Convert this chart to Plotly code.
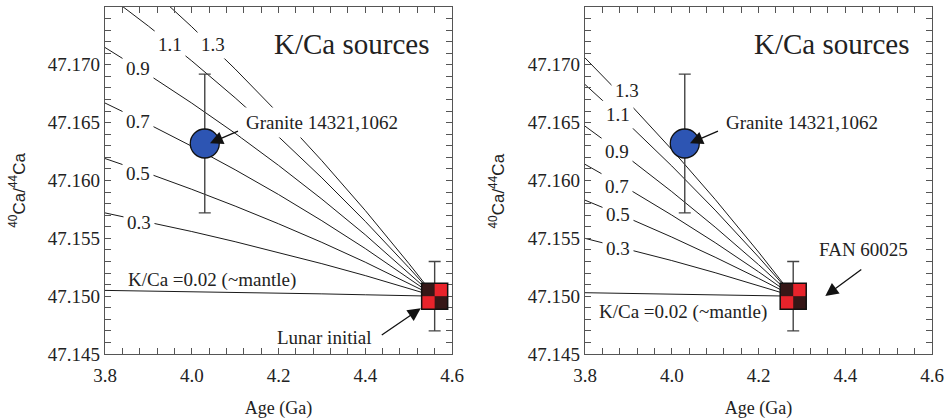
import plotly.graph_objects as go

# ---------------- data ----------------
kca_labels = ["0.02", "0.3", "0.5", "0.7", "0.9", "1.1", "1.3"]

# Left panel: evolution curves from the lunar initial (4.56 Ga)
left_age = [3.8, 3.9, 4.0, 4.1, 4.2, 4.3, 4.4, 4.5, 4.56]
left_curves = {
    "0.02": [47.1505, 47.15045, 47.15039, 47.15033, 47.15026, 47.1502, 47.15012, 47.15005, 47.15],
    "0.3": [47.1572, 47.15642, 47.15559, 47.15471, 47.15379, 47.15281, 47.15178, 47.15068, 47.15],
    "0.5": [47.1619, 47.16061, 47.15924, 47.15779, 47.15626, 47.15465, 47.15294, 47.15113, 47.15],
    "0.7": [47.1667, 47.16488, 47.16296, 47.16093, 47.15879, 47.15652, 47.15412, 47.15159, 47.15],
    "0.9": [47.1715, 47.16916, 47.16669, 47.16408, 47.16131, 47.15839, 47.15531, 47.15204, 47.15],
    "1.1": [47.1762, 47.17335, 47.17034, 47.16715, 47.16379, 47.16023, 47.15647, 47.15249, 47.15],
    "1.3": [47.1800, 47.17674, 47.17329, 47.16964, 47.16579, 47.16171, 47.15741, 47.15285, 47.15],
}

# Right panel: evolution curves from FAN 60025 (4.28 Ga)
right_age = [3.8, 3.9, 4.0, 4.1, 4.2, 4.28]
right_curves = {
    "0.02": [47.1503, 47.15024, 47.15018, 47.15012, 47.15006, 47.15],
    "0.3": [47.155, 47.15407, 47.15308, 47.15203, 47.15093, 47.15],
    "0.5": [47.1583, 47.15675, 47.15511, 47.15337, 47.15154, 47.15],
    "0.7": [47.1614, 47.15927, 47.15701, 47.15463, 47.15211, 47.15],
    "0.9": [47.1647, 47.16195, 47.15904, 47.15597, 47.15273, 47.15],
    "1.1": [47.1683, 47.16488, 47.16126, 47.15744, 47.15339, 47.15],
    "1.3": [47.1706, 47.16675, 47.16268, 47.15837, 47.15382, 47.15],
}

granite_age, granite_ratio, granite_err = 4.03, 47.1632, 0.006
lunar_age, lunar_ratio, lunar_err = 4.56, 47.150, 0.003
fan_age, fan_ratio, fan_err = 4.28, 47.150, 0.003

# curve label positions (age, ratio)
left_label_pos = {
    "0.3": (3.879, 47.15641), "0.5": (3.877, 47.16062), "0.7": (3.877, 47.16508),
    "0.9": (3.877, 47.16964), "1.1": (3.95, 47.17177), "1.3": (4.048, 47.17177),
}
right_label_pos = {
    "0.3": (3.875, 47.15414), "0.5": (3.875, 47.15702), "0.7": (3.873, 47.15946),
    "0.9": (3.873, 47.16249), "1.1": (3.875, 47.16573), "1.3": (3.896, 47.16782),
}

x_ticks = [3.8, 4.0, 4.2, 4.4, 4.6]
y_ticks = [47.145, 47.150, 47.155, 47.160, 47.165, 47.170]

# ---------------- style ----------------
SERIF = "Liberation Serif"
TXT = "#222222"
BLUE = "#2d55b3"
RED = "#e8232b"
DARK = "#361717"
half_w, half_h = 0.03, 0.001125   # half size of the checker square (data units)

fig = go.Figure()

def add_panel(xa, ya, ages, curves):
    for k in kca_labels:
        fig.add_trace(go.Scatter(x=ages, y=curves[k], mode="lines",
                                 line=dict(color="#1a1a1a", width=1),
                                 xaxis=xa, yaxis=ya, showlegend=False, hoverinfo="skip"))

add_panel("x", "y", left_age, left_curves)
add_panel("x2", "y2", right_age, right_curves)

# granite circles with error bars
for xa, ya in (("x", "y"), ("x2", "y2")):
    fig.add_trace(go.Scatter(
        x=[granite_age], y=[granite_ratio], mode="markers",
        marker=dict(size=29, color=BLUE, line=dict(color="#111", width=1.3)),
        error_y=dict(type="constant", value=granite_err, color="#444", thickness=1.4, width=6),
        xaxis=xa, yaxis=ya, showlegend=False))

# square points error bars (square itself drawn as shapes)
for xa, ya, ax_, ay_, e in (("x", "y", lunar_age, lunar_ratio, lunar_err),
                            ("x2", "y2", fan_age, fan_ratio, fan_err)):
    fig.add_trace(go.Scatter(
        x=[ax_], y=[ay_], mode="markers", marker=dict(size=1, color=DARK),
        error_y=dict(type="constant", value=e, color="#444", thickness=1.4, width=6),
        xaxis=xa, yaxis=ya, showlegend=False))

shapes = []
for xr, yr, cx, cy in (("x", "y", lunar_age, lunar_ratio), ("x2", "y2", fan_age, fan_ratio)):
    shapes.append(dict(type="rect", xref=xr, yref=yr, x0=cx - half_w, x1=cx + half_w,
                       y0=cy - half_h, y1=cy + half_h, fillcolor=DARK, line=dict(width=0), layer="above"))
    shapes.append(dict(type="rect", xref=xr, yref=yr, x0=cx, x1=cx + half_w,
                       y0=cy, y1=cy + half_h, fillcolor=RED, line=dict(width=0), layer="above"))
    shapes.append(dict(type="rect", xref=xr, yref=yr, x0=cx - half_w, x1=cx,
                       y0=cy - half_h, y1=cy, fillcolor=RED, line=dict(width=0), layer="above"))
    shapes.append(dict(type="rect", xref=xr, yref=yr, x0=cx - half_w, x1=cx + half_w,
                       y0=cy - half_h, y1=cy + half_h, fillcolor="rgba(0,0,0,0)",
                       line=dict(color="#111", width=1.5), layer="above"))

ann = []
def label(xr, yr, x, y, text, size=19, bg=None, pad=1):
    d = dict(xref=xr, yref=yr, x=x, y=y, text=text, showarrow=False,
             font=dict(family=SERIF, size=size, color=TXT), borderpad=pad)
    if bg:
        d["bgcolor"] = bg
    ann.append(d)

def arrow(xr, yr, x, y, ax, ay):
    ann.append(dict(xref=xr, yref=yr, x=x, y=y, ax=ax, ay=ay, text=" ", showarrow=True,
                    arrowhead=2, arrowsize=2.0, arrowwidth=1.3, arrowcolor="#111",
                    font=dict(size=2)))

for k, (lx, ly) in left_label_pos.items():
    label("x", "y", lx, ly, k, bg="white", pad=3)
for k, (lx, ly) in right_label_pos.items():
    label("x2", "y2", lx, ly, k, bg="white", pad=3)

label("x", "y", 4.046, 47.1514, "K/Ca =0.02 (~mantle)")
label("x2", "y2", 4.027, 47.14866, "K/Ca =0.02 (~mantle)")
label("x", "y", 4.369, 47.1718, "K/Ca sources", size=29)
label("x2", "y2", 4.369, 47.1718, "K/Ca sources", size=29)
label("x", "y", 4.3014, 47.16501, "Granite 14321,1062", bg="white", pad=4)
label("x2", "y2", 4.3014, 47.16501, "Granite 14321,1062")
label("x", "y", 4.3054, 47.14643, "Lunar initial")
label("x2", "y2", 4.443, 47.154, "FAN 60025")

arrow("x", "y", 4.042, 47.16322, 30, -13)
arrow("x2", "y2", 4.042, 47.16322, 30, -13)
arrow("x", "y", 4.528, 47.14895, -41, 28)
arrow("x2", "y2", 4.354, 47.15001, 38, -28)

# y-axis titles
for xp in (0.018, 0.522):
    ann.append(dict(xref="paper", yref="paper", x=xp, y=0.545, xanchor="center", yanchor="middle",
                    text="<sup>40</sup>Ca/<sup>44</sup>Ca", textangle=-90, showarrow=False,
                    font=dict(family="Liberation Sans", size=17, color=TXT)))

axis_common = dict(showgrid=False, zeroline=False, showline=True, linecolor="#555", linewidth=1.2,
                   mirror="ticks", ticks="inside", ticklen=6, tickwidth=1, tickcolor="#555",
                   automargin=False,
                   tickfont=dict(family=SERIF, size=19, color=TXT))

xaxis = dict(axis_common, range=[3.8, 4.6], tickvals=x_ticks, ticktext=[f"{v:.1f}" for v in x_ticks],
             ticklabelstandoff=4,
             minor=dict(dtick=0.04, tick0=3.8, ticks="inside", ticklen=6, tickcolor="#555", tickwidth=1),
             title=dict(text="Age (Ga)", font=dict(family=SERIF, size=18, color=TXT), standoff=18))
yaxis = dict(axis_common, range=[47.145, 47.175], tickvals=y_ticks, ticktext=[f"{v:.3f}" for v in y_ticks],
             minor=dict(dtick=0.001, tick0=47.145, ticks="inside", ticklen=6, tickcolor="#555", tickwidth=1))

fig.update_layout(
    template="none",
    width=952, height=419, margin=dict(l=0, r=0, t=0, b=0),
    paper_bgcolor="white", plot_bgcolor="white",
    xaxis=dict(xaxis, domain=[0.1103, 0.4748], anchor="y"),
    yaxis=dict(yaxis, domain=[0.1551, 0.9833], anchor="x"),
    xaxis2=dict(xaxis, domain=[0.6145, 0.979], anchor="y2"),
    yaxis2=dict(yaxis, domain=[0.1551, 0.9833], anchor="x2"),
    shapes=shapes, annotations=ann, showlegend=False,
)

fig.write_html("out.html", config={"displayModeBar": False},
               post_script="document.body.style.margin='0px';document.body.style.overflow='hidden';")
